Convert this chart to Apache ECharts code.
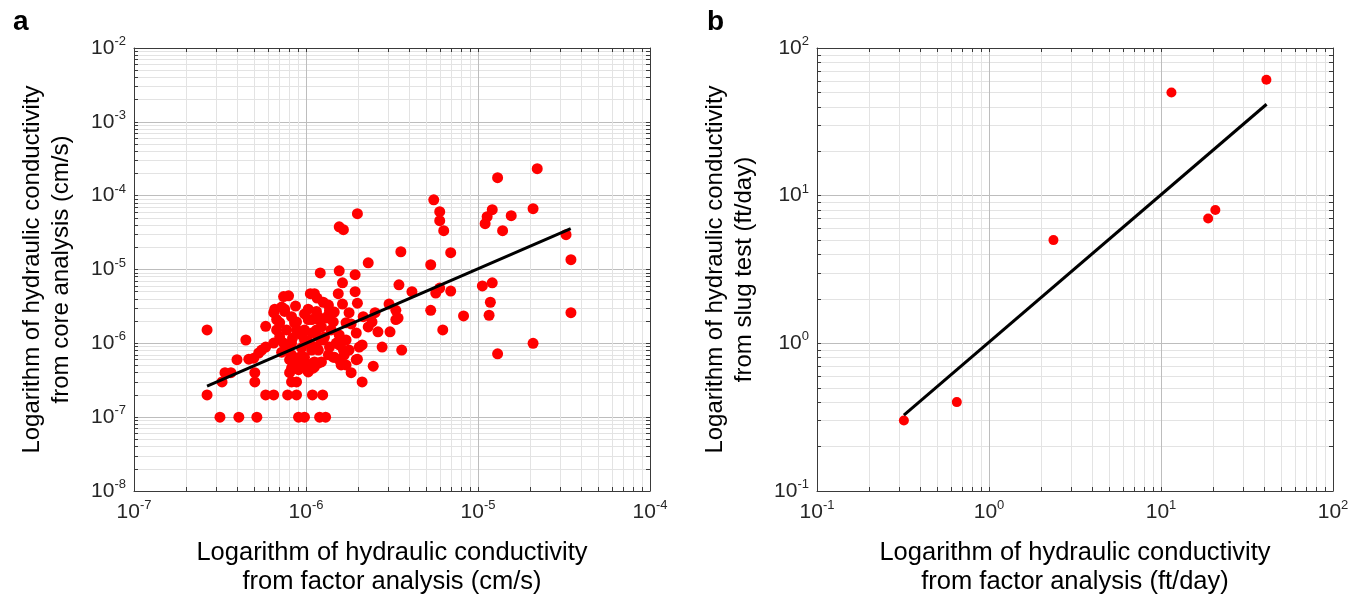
<!DOCTYPE html>
<html><head><meta charset="utf-8">
<script src="https://cdn.jsdelivr.net/npm/echarts@6/dist/echarts.min.js"></script>
<style>html,body{margin:0;padding:0;background:#fff}#c{width:1362px;height:601px}</style>
</head><body><div id="c"></div>
<script>
// ---- Panel a data (cm/s) ----
const factorA = [22.1e-6,13.0e-6,5.53e-6,5.99e-6,5.99e-6,6.32e-6,12.1e-6,11.3e-6,11.0e-6,20.9e-6,15.6e-6,13.9e-6,32.5e-6,34.7e-6,1.99e-6,1.56e-6,1.65e-6,3.56e-6,6.94e-6,2.30e-6,5.31e-6,1.56e-6,1.21e-6,1.93e-6,1.63e-6,3.47e-6,4.13e-6,5.68e-6,5.99e-6,6.94e-6,10.6e-6,12.1e-6,11.8e-6,11.6e-6,34.7e-6,5.31e-6,8.24e-6,6.24e-6,20.9e-6,13.0e-6,3.6e-6,1.54e-6,1.93e-6,0.741e-6,0.792e-6,1.06e-6,1.12e-6,1.16e-6,1.26e-6,0.869e-6,1.63e-6,1.99e-6,3.04e-6,3.33e-6,3.43e-6,0.658e-6,0.751e-6,1.03e-6,0.649e-6,0.675e-6,0.751e-6,0.98e-6,1.03e-6,1.15e-6,1.18e-6,1.31e-6,1.44e-6,2.52e-6,2.42e-6,2.30e-6,3.33e-6,1.83e-6,0.583e-6,0.266e-6,3.08e-6,2.62e-6,0.447e-6,2.77e-6,0.583e-6,0.553e-6,0.531e-6,0.397e-6,0.465e-6,0.497e-6,2.46e-6,1.99e-6,0.338e-6,0.366e-6,0.504e-6,0.325e-6,0.504e-6,1.83e-6,2.12e-6,0.266e-6,0.583e-6,0.649e-6,0.782e-6,0.881e-6,1.09e-6,1.25e-6,0.316e-6,0.407e-6,0.518e-6,0.905e-6,0.98e-6,1.20e-6,1.30e-6,0.824e-6,0.881e-6,0.803e-6,0.942e-6,1.03e-6,1.12e-6,1.08e-6,1.18e-6,0.703e-6,0.675e-6,0.703e-6,0.741e-6,0.881e-6,0.881e-6,0.942e-6,0.835e-6,0.98e-6,1.15e-6,1.26e-6,1.15e-6,1.37e-6,1.50e-6,1.65e-6,1.78e-6,2.04e-6,0.803e-6,0.917e-6,0.98e-6,1.10e-6,0.824e-6,0.905e-6,1.10e-6,1.18e-6,1.44e-6,1.56e-6,1.71e-6,1.96e-6,1.96e-6,1.71e-6,1.78e-6,1.37e-6,2.15e-6,1.35e-6,1.08e-6,1.18e-6,1.28e-6,0.98e-6,1.56e-6,2.12e-6,1.08e-6,1.18e-6,1.35e-6,1.46e-6,1.67e-6,0.98e-6,1.12e-6,1.23e-6,1.60e-6,1.03e-6,0.649e-6,0.722e-6,0.824e-6,0.771e-6,0.824e-6,0.858e-6,0.942e-6,0.858e-6,0.905e-6,0.771e-6,0.824e-6,0.942e-6,1.05e-6,1.23e-6,1.40e-6,1.56e-6,1.71e-6,0.722e-6,1.35e-6,1.46e-6];
const coreA = [232e-6,175e-6,88e-6,60.7e-6,45.8e-6,33.5e-6,64.6e-6,51.9e-6,41.7e-6,66.7e-6,53.6e-6,33.5e-6,29.6e-6,13.6e-6,57e-6,37.9e-6,34.6e-6,17.4e-6,16.9e-6,12.3e-6,11.6e-6,9.6e-6,9.0e-6,8.5e-6,6.6e-6,6.2e-6,5.0e-6,4.8e-6,5.6e-6,5.1e-6,6.0e-6,6.6e-6,3.6e-6,2.4e-6,2.6e-6,2.8e-6,2.35e-6,1.52e-6,1.0e-6,0.72e-6,0.81e-6,4.7e-6,5.0e-6,4.3e-6,4.4e-6,4.7e-6,4.7e-6,4.1e-6,3.6e-6,3.2e-6,3.4e-6,3.5e-6,3.4e-6,2.8e-6,2.2e-6,2.9e-6,2.9e-6,2.9e-6,2.6e-6,2.1e-6,2.7e-6,2.5e-6,2.1e-6,2.7e-6,2.1e-6,2.2e-6,1.95e-6,2.6e-6,1.95e-6,1.67e-6,2.1e-6,1.83e-6,1.7e-6,1.52e-6,1.43e-6,1.43e-6,1.11e-6,0.89e-6,0.89e-6,0.81e-6,0.74e-6,0.6e-6,0.61e-6,0.63e-6,0.49e-6,0.61e-6,0.4e-6,0.4e-6,0.4e-6,0.3e-6,0.3e-6,0.4e-6,0.3e-6,0.2e-6,0.2e-6,0.2e-6,0.2e-6,0.2e-6,0.2e-6,0.2e-6,0.1e-6,0.1e-6,0.1e-6,0.1e-6,0.1e-6,0.1e-6,0.1e-6,0.3e-6,0.3e-6,0.4e-6,0.48e-6,0.41e-6,0.48e-6,2.1e-6,2.3e-6,1.9e-6,1.52e-6,1.22e-6,1.01e-6,1.95e-6,1.52e-6,1.30e-6,1.18e-6,1.52e-6,1.52e-6,1.11e-6,0.89e-6,0.89e-6,1.01e-6,0.81e-6,0.81e-6,0.89e-6,0.6e-6,0.65e-6,0.56e-6,0.54e-6,0.46e-6,0.44e-6,0.46e-6,0.54e-6,0.65e-6,0.6e-6,0.51e-6,0.6e-6,1.38e-6,1.9e-6,2.6e-6,2.8e-6,2.3e-6,2.4e-6,1.38e-6,1.22e-6,1.22e-6,1.11e-6,0.95e-6,0.95e-6,0.81e-6,0.81e-6,0.70e-6,0.65e-6,0.70e-6,0.65e-6,0.56e-6,0.56e-6,0.51e-6,0.48e-6,1.01e-6,3.1e-6,2.3e-6,0.81e-6,0.70e-6,0.56e-6,0.6e-6,1.9e-6,1.43e-6,1.52e-6,1.01e-6,0.87e-6,1.01e-6,1.67e-6,1.52e-6,1.30e-6,1.11e-6,0.76e-6,3.3e-6,2.65e-6];
const fitAx = [2.66e-7, 3.46e-5];
const fitAy = [2.64e-7, 3.57e-5];
// ---- Panel b data (ft/day) ----
const factorB = [0.32, 0.65, 2.37, 11.5, 18.8, 20.7, 41];
const slugB = [0.30, 0.40, 5.0, 50, 7.0, 8.0, 61];
const fitBx = [0.32, 41.1];
const fitBy = [0.326, 41.6];
// ---- tick label exponents ----
const tickExpAx = [-7, -6, -5, -4];
const tickExpAy = [-8, -7, -6, -5, -4, -3, -2];
const tickExpBx = [-1, 0, 1, 2];
const tickExpBy = [-1, 0, 1, 2];
const titleAx = 'Logarithm of hydraulic conductivity\nfrom factor analysis (cm/s)';
const titleAy = 'Logarithm of hydraulic conductivity\nfrom core analysis (cm/s)';
const titleBx = 'Logarithm of hydraulic conductivity\nfrom factor analysis (ft/day)';
const titleBy = 'Logarithm of hydraulic conductivity\nfrom slug test (ft/day)';

const FONT = 'Liberation Sans, Arial, sans-serif';
const MAJOR = '#bdbdbd', MINOR = '#e3e3e3', FRAME = '#3a3a3a';

function pow10(e){ return Number('1e' + e); }
function allTicks(exps){
  const lo = exps[0], hi = exps[exps.length-1], out = [];
  for (let e = lo; e < hi; e++) for (let k = 1; k < 10; k++) out.push(k * pow10(e));
  out.push(pow10(hi));
  return out;
}
const rich = {
  b: {fontSize: 21, lineHeight: 26, fontFamily: FONT, color: '#262626'},
  s: {fontSize: 13, lineHeight: 14, verticalAlign: 'top', fontFamily: FONT, color: '#262626'}
};
function labelFmt(v){ return '{b|10}{s|' + Math.round(Math.log10(v)) + '}'; }

function axis(exps, gridIndex, position, main, name, nameGap, nameSize){
  const ticks = allTicks(exps);
  const colors = [MAJOR, MINOR, MINOR, MINOR, MINOR, MINOR, MINOR, MINOR, MINOR];
  return {
    type: 'log', logBase: 10, gridIndex, position,
    min: pow10(exps[0]), max: pow10(exps[exps.length-1]), interval: 1,
    axisLine: {show: true, onZero: false, lineStyle: {color: FRAME, width: 1}},
    axisTick: {show: true, inside: true, length: 4, customValues: ticks, lineStyle: {color: FRAME}},
    axisLabel: main ? {show: true, customValues: exps.map(pow10), formatter: labelFmt, rich, margin: 8} : {show: false},
    splitLine: main ? {show: true, lineStyle: {color: colors, width: 1}} : {show: false},
    name: main ? name : '', nameLocation: 'middle', nameGap: nameGap,
    nameTextStyle: {fontSize: nameSize || 24, lineHeight: 29, fontFamily: FONT, color: '#000'}
  };
}

const chart = echarts.init(document.getElementById('c'), null, {renderer: 'canvas'});
chart.setOption({
  animation: false,
  backgroundColor: '#fff',
  grid: [
    {left: 134, top: 48, width: 516, height: 443},
    {left: 817, top: 48, width: 516, height: 443}
  ],
  xAxis: [
    axis(tickExpAx, 0, 'bottom', true, titleAx, 47, 25.5),
    axis(tickExpAx, 0, 'top', false),
    axis(tickExpBx, 1, 'bottom', true, titleBx, 47, 25.5),
    axis(tickExpBx, 1, 'top', false)
  ],
  yAxis: [
    axis(tickExpAy, 0, 'left', true, titleAy, 58, 24),
    axis(tickExpAy, 0, 'right', false),
    axis(tickExpBy, 1, 'left', true, titleBy, 58, 24),
    axis(tickExpBy, 1, 'right', false)
  ],
  series: [
    {type: 'scatter', xAxisIndex: 0, yAxisIndex: 0, symbolSize: 11, itemStyle: {color: '#ff0000', opacity: 1},
     data: factorA.map((x, i) => [x, coreA[i]]), z: 5},
    {type: 'line', xAxisIndex: 0, yAxisIndex: 0, showSymbol: false, symbol: 'none',
     lineStyle: {color: '#000', width: 3}, data: fitAx.map((x, i) => [x, fitAy[i]]), z: 6},
    {type: 'scatter', xAxisIndex: 2, yAxisIndex: 2, symbolSize: 10, itemStyle: {color: '#ff0000', opacity: 1},
     data: factorB.map((x, i) => [x, slugB[i]]), z: 5},
    {type: 'line', xAxisIndex: 2, yAxisIndex: 2, showSymbol: false, symbol: 'none',
     lineStyle: {color: '#000', width: 3}, data: fitBx.map((x, i) => [x, fitBy[i]]), z: 6}
  ],
  graphic: [
    {type: 'text', left: 13, top: 8, style: {text: 'a', font: 'bold 28px ' + FONT, fill: '#000'}},
    {type: 'text', left: 707, top: 8, style: {text: 'b', font: 'bold 28px ' + FONT, fill: '#000'}}
  ]
});
</script></body></html>
